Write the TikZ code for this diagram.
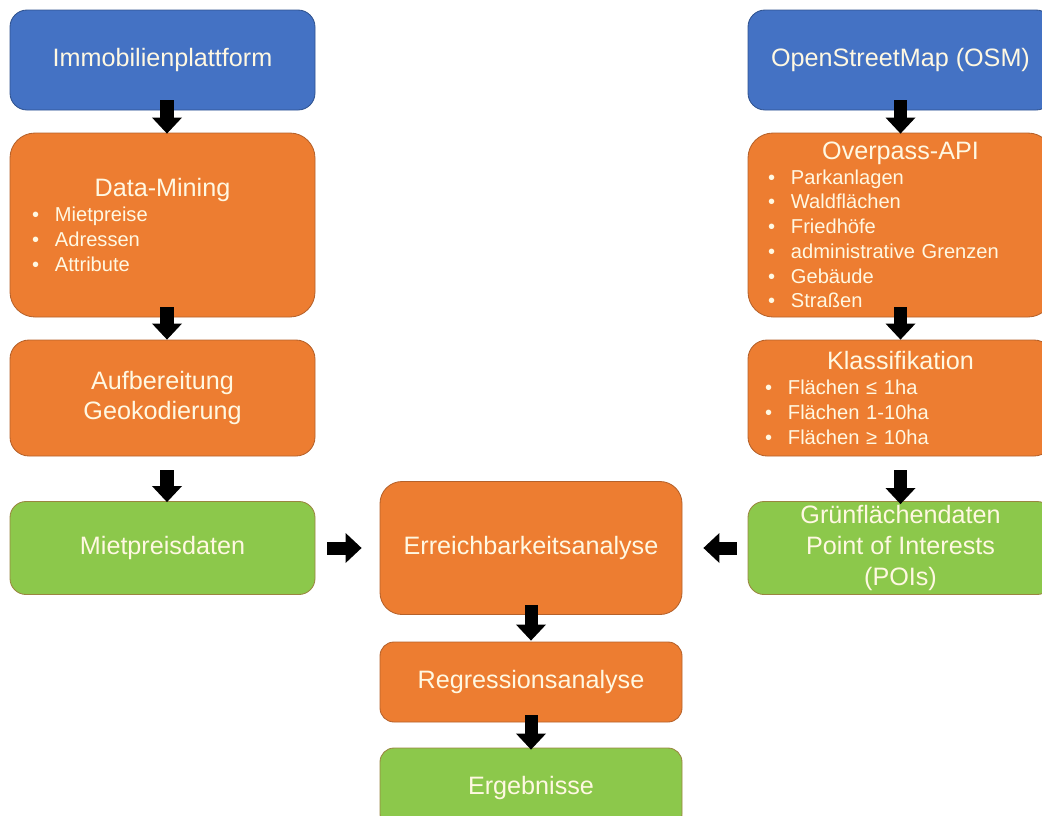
\documentclass[tikz,border=0pt]{standalone}
\usepackage{fontspec}
\setmainfont{Liberation Sans}
\usetikzlibrary{arrows.meta}

\definecolor{boxblue}{HTML}{4472C4}
\definecolor{boxblueline}{HTML}{2F528F}
\definecolor{boxorange}{HTML}{ED7D31}
\definecolor{boxorangeline}{HTML}{B5612A}
\definecolor{boxgreen}{HTML}{8CC84B}
\definecolor{boxgreenline}{HTML}{9A8540}
\definecolor{boxtext}{HTML}{FFF8E2}

\newlength\pxu
\setlength\pxu{0.025cm}
% title line and bullet line inside a box
\newcommand\ttl[1]{{\fontsize{17.9}{21.5}\selectfont #1}}
\newcommand\bul[2][22]{\makebox[\hsize][l]{\hspace*{#1\pxu}\makebox[23\pxu][l]{\textbullet}#2}}

\begin{document}
\begin{tikzpicture}[x = \pxu, y = -\pxu,
        box/.style = {rectangle, fill = box#1, draw = box#1line, line width = 0.6pt, text = boxtext, inner sep = 0pt, align = center, font = \fontsize{17.9}{21.5}\selectfont},
        listbox/.style = {box = #1, text width = 305\pxu, font = \fontsize{14.3}{17.6}\selectfont},
        bigarrow/.style = {-{Triangle[width = 0.75cm, length = 0.4cm, line width = 0pt]}, line width = 0.325cm, draw = black}]
    \useasboundingbox (0, 0) rectangle (1042, 816);
    \clip (0, 0) rectangle (1042, 816);

    % left column
    \node[box = blue, minimum width = 305\pxu, minimum height = 100\pxu, rounded corners = 17\pxu] (immo) at (162.5, 60) {Immobilienplattform};
    \node[listbox = orange, minimum height = 184\pxu, rounded corners = 25\pxu] (mining) at (162.5, 225)
        {\ttl{Data-Mining}\\ \bul{Mietpreise}\\ \bul{Adressen}\\ \bul{Attribute}};
    \node[box = orange, minimum width = 305\pxu, minimum height = 116\pxu, rounded corners = 19\pxu] (aufb) at (162.5, 398) {Aufbereitung\\Geokodierung};
    \node[box = green, minimum width = 305\pxu, minimum height = 93\pxu, rounded corners = 16\pxu] (miet) at (162.5, 548) {Mietpreisdaten};

    % right column
    \node[box = blue, minimum width = 305\pxu, minimum height = 100\pxu, rounded corners = 17\pxu] (osm) at (900.5, 60) {OpenStreetMap (OSM)};
    \node[listbox = orange, minimum height = 184\pxu, rounded corners = 25\pxu] (overpass) at (900.5, 225)
        {\ttl{Overpass-API}\\ \bul[20]{Parkanlagen}\\ \bul[20]{Waldflächen}\\ \bul[20]{Friedhöfe}\\ \bul[20]{administrative Grenzen}\\ \bul[20]{Gebäude}\\ \bul[20]{Straßen}};
    \node[listbox = orange, minimum height = 116\pxu, rounded corners = 19\pxu] (klass) at (900.5, 398)
        {\ttl{Klassifikation}\\ \bul[17]{Flächen ≤ 1ha}\\ \bul[17]{Flächen 1-10ha}\\ \bul[17]{Flächen ≥ 10ha}};
    \node[box = green, minimum width = 305\pxu, minimum height = 93\pxu, rounded corners = 16\pxu, font = \fontsize{17.9}{22}\selectfont] (gruen) at (900.5, 548)
        {Grünflächendaten\\Point of Interests\\(POIs)};

    % middle column
    \node[box = orange, minimum width = 302\pxu, minimum height = 133\pxu, rounded corners = 22\pxu] (erreich) at (531, 548) {Erreichbarkeitsanalyse};
    \node[box = orange, minimum width = 302\pxu, minimum height = 80\pxu, rounded corners = 14\pxu] (regr) at (531, 682) {Regressionsanalyse};
    \node[box = green, minimum width = 302\pxu, minimum height = 80\pxu, rounded corners = 14\pxu] (ergeb) at (531, 788) {Ergebnisse};

    % arrows
    \draw[bigarrow] ([shift = {(4.5, -10)}]immo.south) -- ([shift = {(4.5, 1)}]mining.north);
    \draw[bigarrow] ([shift = {(4.5, -10)}]mining.south) -- ([shift = {(4.5, 0)}]aufb.north);
    \draw[bigarrow] ([shift = {(4.5, 14)}]aufb.south) -- ([shift = {(4.5, 1)}]miet.north);
    \draw[bigarrow] ([shift = {(0, -10)}]osm.south) -- ([shift = {(0, 1)}]overpass.north);
    \draw[bigarrow] ([shift = {(0, -10)}]overpass.south) -- ([shift = {(0, 0)}]klass.north);
    \draw[bigarrow] ([shift = {(0, 14)}]klass.south) -- ([shift = {(0, 3)}]gruen.north);
    \draw[bigarrow] ([shift = {(12, 0)}]miet.east) -- ([shift = {(-18, 0)}]erreich.west);
    \draw[bigarrow] ([shift = {(-11, 0)}]gruen.west) -- ([shift = {(21, 0)}]erreich.east);
    \draw[bigarrow] ([shift = {(0, -10)}]erreich.south) -- ([shift = {(0, -1)}]regr.north);
    \draw[bigarrow] ([shift = {(0, -7)}]regr.south) -- ([shift = {(0, 2)}]ergeb.north);
\end{tikzpicture}
\end{document}
